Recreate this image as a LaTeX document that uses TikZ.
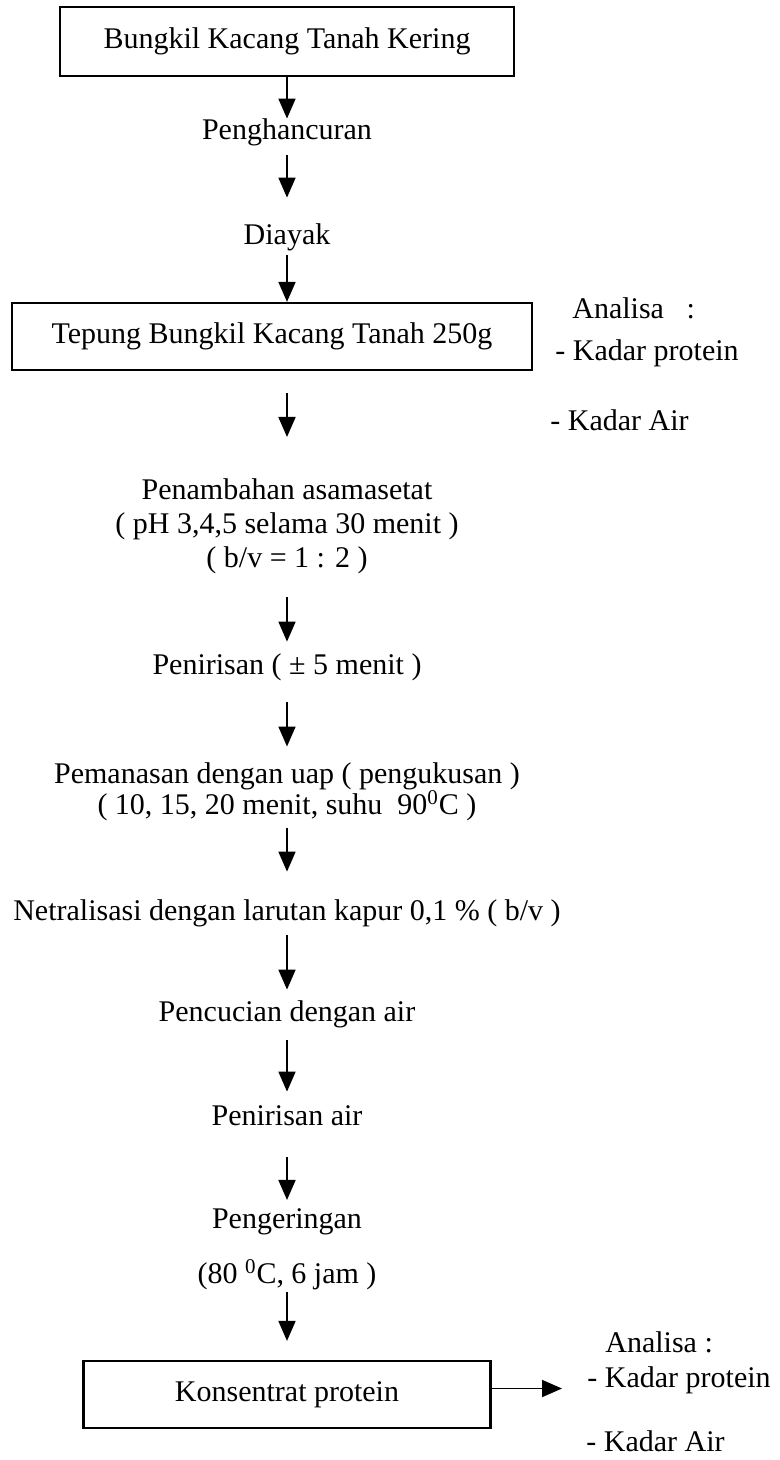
\documentclass[tikz,border=0pt]{standalone}
\usepackage{fontspec}
\setmainfont{Liberation Serif}
\usetikzlibrary{arrows.meta,positioning}

\begin{document}
\begin{tikzpicture}[
    node distance=1cm, on grid,
    kotak/.style={draw, line width=1.1pt, inner sep=0pt, font=\fontsize{15pt}{17pt}\selectfont},
    satu/.style={inner sep=0pt, text height=10.5pt, text depth=3.5pt, font=\fontsize{15pt}{17pt}\selectfont},
    tahap/.style={inner sep=0pt, align=center, font=\fontsize{15pt}{17pt}\selectfont},
    catatan/.style={satu, anchor=west},
    panah/.style={->, line width=0.9pt},
    >={Triangle[length=10pt, width=8.5pt]}
  ]
    \useasboundingbox (0,0) rectangle (390pt,-730pt);
    % alur utama
    \node[kotak, minimum width=227pt, minimum height=34.5pt] (bungkil) at (143.5pt,-20.75pt) {Bungkil Kacang Tanah Kering};
    \node[satu, below=45.75pt of bungkil] (hancur) {Penghancuran};
    \node[satu, below=52.5pt of hancur] (ayak) {Diayak};
    \node[kotak, minimum width=260pt, minimum height=33.5pt, below=49.25pt of ayak, xshift=-7.5pt] (tepung) {Tepung Bungkil Kacang Tanah 250g};
    \node[tahap, below=94.75pt of tepung, xshift=7.5pt] (asam) {Penambahan asamasetat\\( pH 3,4,5 selama 30 menit )\\( b/v = 1 : 2 )};
    \node[satu, below=70.5pt of asam] (tiris) {Penirisan ( ± 5 menit )};
    \node[tahap, below=62.5pt of tiris] (panas) {Pemanasan dengan uap ( pengukusan )\\[-1.5pt]( 10, 15, 20 menit, suhu~~90\textsuperscript{0}C )};
    \node[satu, below=60.5pt of panas] (netral) {Netralisasi dengan larutan kapur 0,1 \% ( b/v )};
    \node[satu, below=50.5pt of netral] (cuci) {Pencucian dengan air};
    \node[satu, below=52pt of cuci] (tirisair) {Penirisan air};
    \node[tahap, below=65.75pt of tirisair] (kering) {Pengeringan\\[10.5pt](80 \textsuperscript{0}C, 6 jam )};
    \node[kotak, minimum width=203.5pt, minimum height=33.5pt, below=72.5pt of kering] (konsentrat) {Konsentrat protein};

    % analisa
    \node[catatan] (analisa1) at (286pt,-156pt) {Analisa~~~:};
    \node[catatan] (protein1) at (277.5pt,-176.5pt) {- Kadar protein};
    \node[catatan] (air1) at (275pt,-211.5pt) {- Kadar Air};
    \node[catatan] (analisa2) at (302.5pt,-672.5pt) {Analisa :};
    \node[catatan] (protein2) at (293.5pt,-690pt) {- Kadar protein};
    \node[catatan] (air2) at (293pt,-722pt) {- Kadar Air};

    % panah
    \draw[panah] (bungkil.south -| hancur) -- (hancur);
    \draw[panah, shorten <=4pt, shorten >=13pt] (hancur) -- (ayak);
    \draw[panah, shorten <=1.5pt] (ayak) -- (tepung.north -| ayak);
    \draw[panah, shorten <=11pt, shorten >=20.5pt] (tepung.south -| asam) -- (asam);
    \draw[panah, shorten <=11.5pt, shorten >=5.5pt] (asam) -- (tiris);
    \draw[panah, shorten <=10.5pt, shorten >=8pt] (tiris) -- (panas);
    \draw[panah, shorten <=3pt, shorten >=13.5pt] (panas) -- (netral);
    \draw[panah, shorten <=4pt, shorten >=5pt] (netral) -- (cuci);
    \draw[panah, shorten <=6pt, shorten >=6pt] (cuci) -- (tirisair);
    \draw[panah, shorten <=12.5pt, shorten >=4.25pt] (tirisair) -- (kering);
    \draw[panah, shorten <=0.75pt, shorten >=9.5pt] (kering) -- (konsentrat);
    \draw[panah, shorten >=12.5pt] ([yshift=3pt]konsentrat.east) -- ([yshift=3pt]konsentrat.east -| protein2.west);
\end{tikzpicture}
\end{document}
